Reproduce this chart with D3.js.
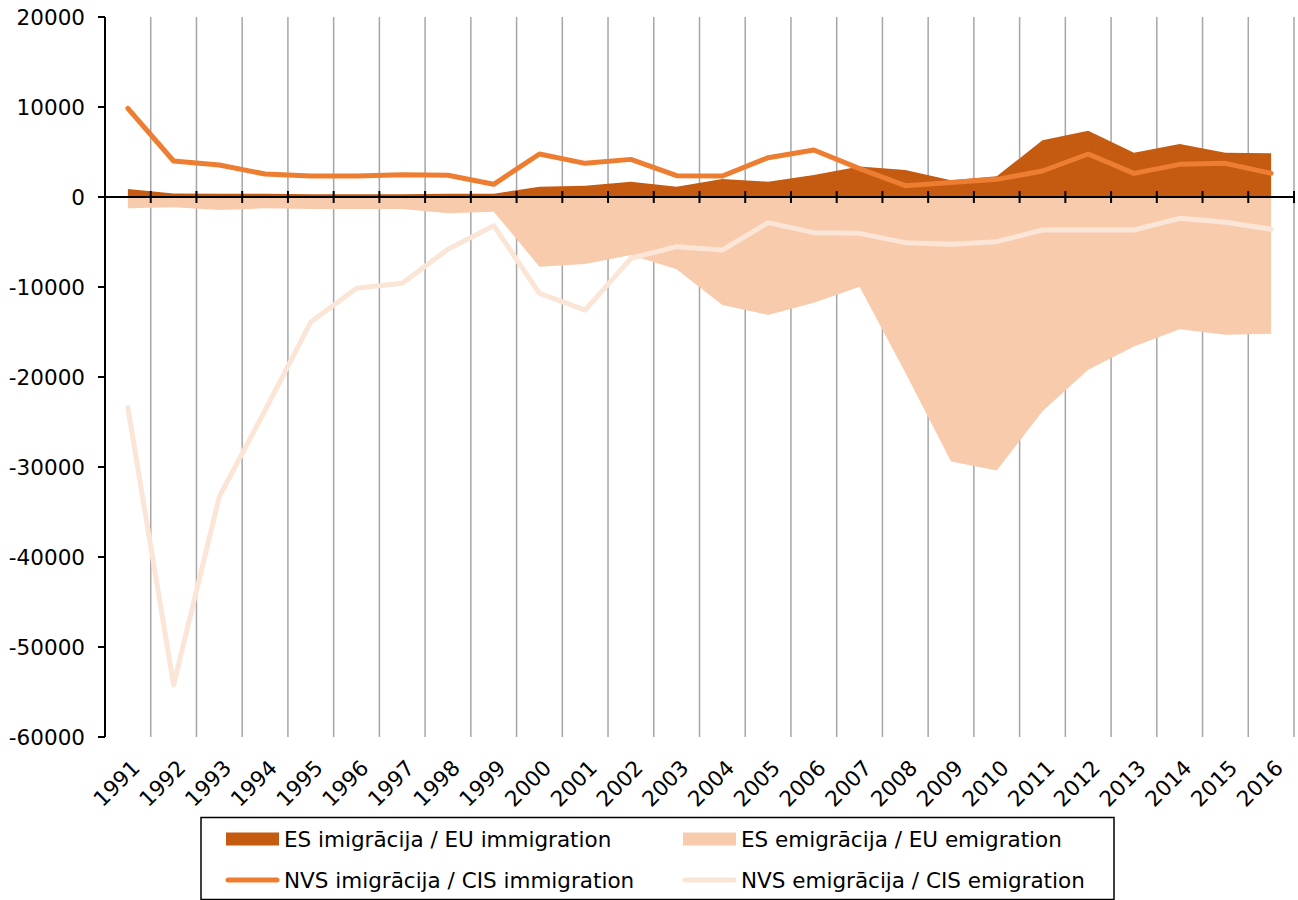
<!DOCTYPE html>
<html>
<head>
<meta charset="utf-8">
<script src="https://cdn.jsdelivr.net/npm/d3@7"></script>
<style>
  html, body { margin: 0; padding: 0; background: #fff; }
  svg { display: block; font-family: "DejaVu Sans", Verdana, sans-serif; }
</style>
</head>
<body>
<svg id="chart" width="1298" height="900"></svg>
<script>
// Migration flows by region, 1991–2016
const years = [1991, 1992, 1993, 1994, 1995, 1996, 1997, 1998, 1999, 2000, 2001, 2002, 2003,
               2004, 2005, 2006, 2007, 2008, 2009, 2010, 2011, 2012, 2013, 2014, 2015, 2016];

const euImmigration = [890, 400, 350, 350, 300, 300, 300, 350, 350, 1150, 1250, 1700, 1150,
                       2000, 1700, 2450, 3400, 3000, 1850, 2300, 6300, 7370, 4930, 5890, 4930, 4850];

const euEmigration = [-1260, -1150, -1450, -1260, -1330, -1330, -1330, -1800, -1630, -7740, -7440, -6440, -8040,
                      -12000, -13100, -11740, -9960, -19500, -29400, -30400, -23800, -19200, -16600, -14700, -15300, -15200];

const cisImmigration = [9850, 4000, 3550, 2550, 2330, 2330, 2480, 2420, 1410, 4780, 3740, 4180, 2370,
                        2330, 4370, 5220, 3150, 1260, 1600, 1960, 2890, 4780, 2630, 3630, 3740, 2630];

const cisEmigration = [-23400, -54200, -33300, -23700, -13900, -10150, -9590, -5800, -3190, -10700, -12560, -6810, -5520,
                       -5890, -2850, -3960, -4040, -5070, -5260, -4960, -3670, -3670, -3670, -2370, -2810, -3590];

const yTicks = [20000, 10000, 0, -10000, -20000, -30000, -40000, -50000, -60000];

const seriesLabels = [
  "ES imigrācija / EU immigration",
  "ES emigrācija / EU emigration",
  "NVS imigrācija / CIS immigration",
  "NVS emigrācija / CIS emigration"
];

const colors = {
  euImm: "#C55A11",
  euEmi: "#F8CBAD",
  cisImm: "#ED7D31",
  cisEmi: "#FBE5D6"
};

const FONT = 21.5;

const svg = d3.select("#chart");
const plot = { left: 105, right: 1294, top: 17, bottom: 737 };

const x = d3.scaleBand().domain(years).range([plot.left, plot.right]).padding(0);
const y = d3.scaleLinear().domain([-60000, 20000]).range([plot.bottom, plot.top]);
const cx = d => x(d) + x.bandwidth() / 2;

// Vertical gridlines on category boundaries
const boundaries = years.map(d => x(d) + x.bandwidth());
svg.append("g")
  .selectAll("line")
  .data(boundaries)
  .join("line")
  .attr("x1", d => d).attr("x2", d => d)
  .attr("y1", plot.top).attr("y2", plot.bottom)
  .attr("stroke", "#a6a6a6")
  .attr("stroke-width", 1.5);

// Areas
const rows = years.map((yr, i) => ({
  yr, euImm: euImmigration[i], euEmi: euEmigration[i],
  cisImm: cisImmigration[i], cisEmi: cisEmigration[i]
}));

const area = key => d3.area()
  .x(d => cx(d.yr))
  .y0(y(0))
  .y1(d => y(d[key]));

svg.append("path").datum(rows).attr("d", area("euEmi")).attr("fill", colors.euEmi);
svg.append("path").datum(rows).attr("d", area("euImm")).attr("fill", colors.euImm);

// Y axis
const yAxis = svg.append("g").attr("transform", `translate(${plot.left},0)`);
yAxis.append("line")
  .attr("x1", 0).attr("x2", 0).attr("y1", plot.top).attr("y2", plot.bottom)
  .attr("stroke", "#000").attr("stroke-width", 2);
yAxis.selectAll("line.tick")
  .data(yTicks).join("line").attr("class", "tick")
  .attr("x1", -7).attr("x2", 0)
  .attr("y1", d => y(d)).attr("y2", d => y(d))
  .attr("stroke", "#000").attr("stroke-width", 2);
yAxis.selectAll("text")
  .data(yTicks).join("text")
  .attr("x", -20).attr("y", d => y(d))
  .attr("dy", "0.36em")
  .attr("text-anchor", "end")
  .attr("font-size", FONT)
  .attr("fill", "#000")
  .text(d => d);

// X axis on the zero line with crossing tick marks
const xAxis = svg.append("g");
xAxis.append("line")
  .attr("x1", plot.left).attr("x2", plot.right)
  .attr("y1", y(0)).attr("y2", y(0))
  .attr("stroke", "#000").attr("stroke-width", 2);
xAxis.selectAll("line.tick")
  .data(boundaries).join("line").attr("class", "tick")
  .attr("x1", d => d).attr("x2", d => d)
  .attr("y1", y(0) - 6).attr("y2", y(0) + 6)
  .attr("stroke", "#000").attr("stroke-width", 2);

// Lines
const line = key => d3.line().x(d => cx(d.yr)).y(d => y(d[key]));

svg.append("path").datum(rows).attr("d", line("cisEmi"))
  .attr("fill", "none").attr("stroke", colors.cisEmi)
  .attr("stroke-width", 5).attr("stroke-linejoin", "round").attr("stroke-linecap", "round");
svg.append("path").datum(rows).attr("d", line("cisImm"))
  .attr("fill", "none").attr("stroke", colors.cisImm)
  .attr("stroke-width", 5).attr("stroke-linejoin", "round").attr("stroke-linecap", "round");

// Year labels
svg.append("g")
  .selectAll("text")
  .data(years).join("text")
  .attr("transform", d => `translate(${cx(d) + 8},764) rotate(-45)`)
  .attr("dy", "0.35em")
  .attr("text-anchor", "end")
  .attr("font-size", FONT)
  .attr("fill", "#000")
  .text(d => d);

// Legend
const legend = svg.append("g");
legend.append("rect")
  .attr("x", 201).attr("y", 817.5).attr("width", 913).attr("height", 82)
  .attr("fill", "#fff").attr("stroke", "#000").attr("stroke-width", 1.5);

const legendItems = [
  { label: seriesLabels[0], color: colors.euImm, kind: "area", col: 0, row: 0 },
  { label: seriesLabels[1], color: colors.euEmi, kind: "area", col: 1, row: 0 },
  { label: seriesLabels[2], color: colors.cisImm, kind: "line", col: 0, row: 1 },
  { label: seriesLabels[3], color: colors.cisEmi, kind: "line", col: 1, row: 1 }
];
const colX = [226, 683];
const rowY = [839, 880];

legendItems.forEach(it => {
  const gx = colX[it.col], gy = rowY[it.row];
  if (it.kind === "area") {
    legend.append("rect")
      .attr("x", gx).attr("y", gy - 6.5).attr("width", 53).attr("height", 13)
      .attr("fill", it.color);
  } else {
    legend.append("line")
      .attr("x1", gx + 2).attr("x2", gx + 51).attr("y1", gy).attr("y2", gy)
      .attr("stroke", it.color).attr("stroke-width", 5).attr("stroke-linecap", "round");
  }
  legend.append("text")
    .attr("x", gx + 58).attr("y", gy)
    .attr("dy", "0.36em")
    .attr("font-size", FONT)
    .attr("fill", "#000")
    .text(it.label);
});
</script>
</body>
</html>
